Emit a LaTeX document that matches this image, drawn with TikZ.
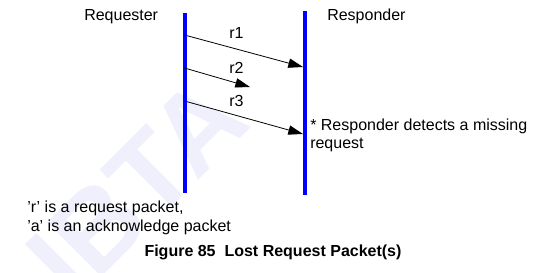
\documentclass[tikz,border=0pt]{standalone}
\usepackage{fontspec}
\setmainfont{Liberation Sans}
\usetikzlibrary{arrows.meta}
\definecolor{wmark}{RGB}{240,240,252}
\tikzset{
  lifeline/.style = {draw=blue, line width=3pt},
  msg/.style = {draw=black, line width=0.6pt, -{Triangle[length=11pt,width=7pt]}},
  txt/.style = {inner sep=0pt, anchor=base west, font=\fontsize{12pt}{14pt}\selectfont},
}
\begin{document}
\begin{tikzpicture}[x=0.75pt, y=-0.75pt]
\useasboundingbox (0,0) rectangle (553,272);
\begin{scope}
\clip (0,0) rectangle (553,272);
\node [rotate=45, text=wmark, inner sep=0pt, font=\fontsize{84pt}{84pt}\bfseries\selectfont] (W) at (137,188) {IBTA};
\end{scope}
\node [txt] (Q) at (84,20) {Requester};
\node [txt] (S) at (327,20) {Responder};
\coordinate (L1) at (184.5,13);
\coordinate (L2) at (184.5,193);
\coordinate (R1) at (305,11);
\coordinate (R2) at (305,195);
\draw [lifeline] (L1) -- (L2);
\draw [lifeline] (R1) -- (R2);
\coordinate (A1) at (184.5,35);
\coordinate (B1) at (303,67);
\coordinate (A2) at (184.5,68);
\coordinate (B2) at (250,87);
\coordinate (A3) at (184.5,101);
\coordinate (B3) at (303,134);
\draw [msg] (A1) -- (B1);
\draw [msg] (A2) -- (B2);
\draw [msg] (A3) -- (B3);
\node [txt] (M1) at (229,38) {r1};
\node [txt] (M2) at (229,73) {r2};
\node [txt] (M3) at (229,106) {r3};
\node [txt] (D1) at (310,130) {* Responder detects a missing};
\node [txt] (D2) at (310,148) {request};
\node [txt] (N1) at (27,212) {’r’ is a request packet,};
\node [txt] (N2) at (27,231) {’a’ is an acknowledge packet};
\node [txt, anchor=base, font=\fontsize{12pt}{14pt}\bfseries\selectfont] (F) at (273,256) {Figure 85\ \ Lost Request Packet(s)};
\end{tikzpicture}
\end{document}
